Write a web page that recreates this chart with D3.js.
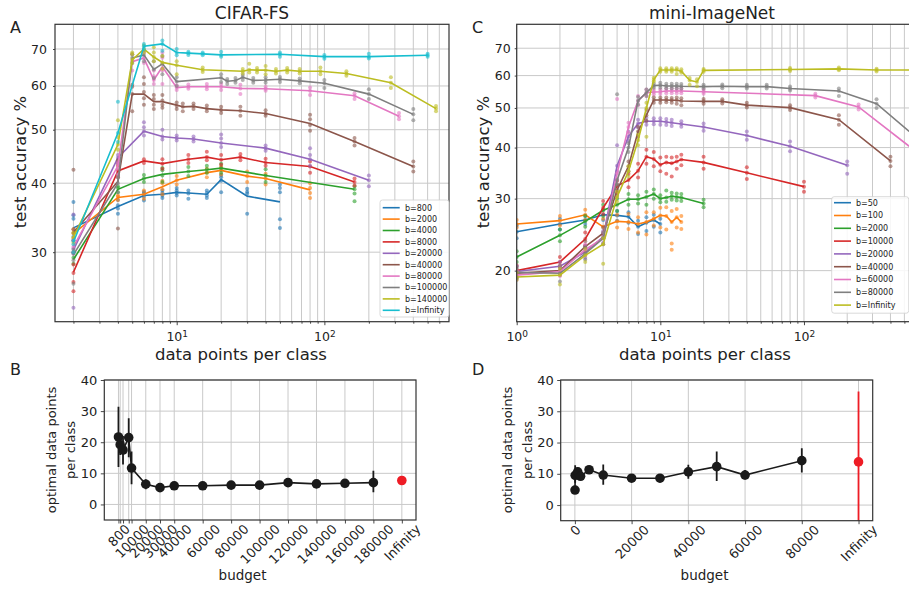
<!DOCTYPE html>
<html><head><meta charset="utf-8">
<script src="https://cdn.jsdelivr.net/npm/d3@7"></script>
<style>
body{margin:0;background:#fff;}
svg{font-family:"DejaVu Sans",sans-serif;}
</style></head><body>
<svg id="chart" width="909" height="590"></svg>
<script>
// ---------------- DATA: CIFAR-FS (panel A) ----------------
const cifarLabels = ["b=800","b=2000","b=4000","b=8000","b=20000","b=40000","b=80000","b=100000","b=140000","b=Infinity"];
const cifarX = [
 [2,4,6,8,10,12,16,20,30,50],
 [2,4,6,8,10,16,20,30,40,80],
 [2,4,6,8,12,16,20,40,160],
 [2,4,6,8,12,16,20,27,40,80,160],
 [2,4,6,8,10,13,20,40,80,200],
 [2,4,5,6,7,8,10,11,13,16,20,27,40,80,160,400],
 [2,4,5,6,7,8,10,12,16,20,27,40,80,160,320],
 [2,4,5,6,7,8,10,20,22,25,28,33,40,50,68,100,200,400],
 [2,4,5,6,7,8,10,15,28,31,35,40,47,56,68,94,141,282,570],
 [2,4,6,8,10,12,15,20,50,100,200,500]
];
const cifarMean = [
 [33.2,36.3,38.0,38.2,38.5,38.4,38.2,40.6,37.9,37.0],
 [32.4,37.7,38.2,39.4,40.5,41.8,42.2,41.2,40.8,38.9],
 [29.1,39.0,40.8,41.5,42.0,42.3,42.6,41.3,39.0],
 [27.6,42.1,43.9,43.4,44.2,44.6,44.1,44.6,43.6,42.9,40.2],
 [30.3,44.5,49.7,48.6,48.3,48.1,47.3,46.3,44.2,40.5],
 [32.6,40.3,58.0,58.0,56.2,56.2,55.4,55.0,55.1,54.6,54.3,54.1,53.5,51.3,47.6,42.9],
 [30.7,43.0,66.4,67.4,61.5,65.0,59.6,59.8,59.8,59.8,59.4,59.3,58.8,57.6,52.9],
 [29.7,40.0,67.4,68.3,64.3,65.8,61.1,62.1,61.2,61.4,62.2,61.4,61.5,61.7,61.3,60.7,58.0,53.3],
 [31.9,47.0,66.9,70.0,67.7,66.2,65.4,64.2,63.8,64.2,64.1,64.1,63.8,64.1,63.8,63.8,63.2,60.8,54.6],
 [31.3,49.3,70.8,71.5,69.0,68.8,68.6,68.3,68.5,67.8,67.8,68.2]
];
const cifarTrials = [
 [[37.0,35.0,34.5,32.0,30.0],[35.2,36.0,36.5,37.3],[37.2,37.8,38.4,38.6],[37.6,38.0,38.4,38.8],[38.0,38.4,38.8,39.2],[37.5,38.3,38.8],[37.6,38.0,38.4,38.8],[38.5,40.4,41.0,41.4],[35.2,38.3,38.6,39.1],[33.2,34.4,38.5,39.2,39.8]],
 [[33.0,32.5,31.8],[37.3,38.0,37.8],[37.5,38.2,38.8],[38.2,39.0,40.0,40.4],[39.8,40.5,41.2],[41.0,41.8,42.5],[41.5,42.3,42.8],[40.2,41.2,42.0],[39.8,40.8,41.6],[37.6,38.4,39.2,40.0]],
 [[30.0,29.3,28.6],[38.5,39.2,39.5],[40.2,40.8,41.4],[40.2,41.3,42.2,42.6],[41.2,42.0,42.8],[41.8,42.4,43.0],[41.8,42.6,43.4],[40.2,41.3,42.4],[37.1,38.3,39.0,39.5]],
 [[28.5,27.5,26.5,25.5],[41.0,42.2,43.0],[43.5,44.2],[42.5,43.4,44.2],[43.5,44.2,45.0],[44.0,44.6,45.6],[43.2,44.1,45.0],[44.0,44.6,45.2],[43.0,43.6,44.3],[41.8,42.9,43.8],[39.6,40.2,40.8]],
 [[35.1,31.5,30.5,29.8,23.8],[43.5,44.5,45.0],[48.8,49.7,50.5,51.6],[48.0,48.6,50.0],[47.8,48.3,48.8],[47.6,48.1,48.6],[46.5,47.3,48.2,49.0],[45.8,46.3,46.8],[43.0,44.2,45.0,46.3],[39.5,40.5,41.3]],
 [[42.3,33.0,32.5,31.5],[33.1,41.5,43.5,44.0],[54.0,58.0,59.8,60.3],[55.5,57.0,58.5,60.5,62.2],[54.5,55.5,56.8,57.8],[54.8,55.5,56.5,57.8],[54.5,55.2,56.0],[54.0,55.0,55.8],[54.5,55.2,55.8],[54.0,54.6,55.3],[53.6,54.3,55.0],[53.0,54.1,55.0],[53.0,53.5,54.2],[49.8,51.0,52.2,53.2],[46.8,47.6,48.3],[42.0,42.9,43.8]],
 [[31.5,30.7,30.0],[41.5,42.5,43.5],[64.0,66.5,68.5],[66.0,67.4,69.0],[60.5,61.5,62.5,64.0],[60.5,64.0,67.5,69.0],[59.0,59.6,60.2],[59.3,59.8,60.4],[59.2,59.8,60.5],[59.0,59.8,60.5],[58.0,59.4,60.3],[58.8,59.3,59.8],[57.8,58.8,59.6],[56.8,57.6,58.2],[52.2,52.9,53.6]],
 [[30.3,29.8,29.0,26.3],[38.5,40.0,41.0],[66.0,67.5,68.5],[66.5,68.3,69.5],[62.0,64.3,66.5],[63.0,65.8,68.0],[60.0,61.1,62.2],[61.0,62.1,63.0],[60.5,61.2,61.8],[60.8,61.4,62.0],[61.5,62.2,62.8],[60.8,61.4,62.0],[60.8,61.5,62.2],[61.0,61.7,62.3],[60.7,61.3,61.9],[59.5,60.7,61.5],[56.8,58.0,59.2],[52.0,53.3,54.5]],
 [[32.5,31.9,31.2],[46.0,47.0,48.5,52.0],[66.0,67.0,68.5,69.0],[69.0,70.0,71.0],[66.5,67.7,69.0,70.5],[64.5,66.2,68.0],[63.0,65.4,66.5],[63.6,64.2,64.8],[63.2,63.8,64.4],[63.5,64.2,65.8],[63.5,64.1,64.7],[63.0,64.1,65.2],[63.2,63.8,64.4],[63.5,64.1,64.7],[63.2,63.8,64.4],[63.0,63.8,64.8],[62.6,63.2,63.8],[59.5,60.8,62.2],[54.0,54.6,55.2]],
 [[31.5,31.0,30.0],[47.5,49.3,56.2],[70.0,70.8,71.5],[69.5,71.5,72.5],[68.2,69.0,70.0],[68.3,68.8,69.2],[68.2,68.6,69.0],[67.8,68.3,69.2],[67.8,68.5,69.0],[67.2,67.8,68.3],[67.3,67.8,68.6],[67.8,68.2,68.6]]
];

// ---------------- DATA: mini-ImageNet (panel C) ----------------
const miniLabels = ["b=50","b=100","b=2000","b=10000","b=20000","b=40000","b=60000","b=80000","b=Infinity"];
const miniX = [
 [1,2,3,4,5,6,7,8,9,10],
 [1,2,3,4,5,6,7,8,9,10,11,12,13,14],
 [1,2,3,4,5,6,7,8,9,10,11,12,13,14,20],
 [1,2,3,4,5,6,7,8,9,10,11,12,13,14,20,40,100],
 [1,2,3,4,5,6,7,8,9,10,11,12,14,20,40,80,200],
 [1,2,3,4,5,6,7,8,9,10,11,12,13,14,20,27,40,80,175,400],
 [1,2,3,4,5,6,7,8,9,10,11,12,13,14,20,120,240,540],
 [1,2,3,4,5,6,7,8,9,10,11,12,13,14,20,27,40,55,80,175,320,540],
 [1,2,3,4,5,6,7,8,9,10,11,12,13,14,16,18,20,80,175,320,560]
];
const miniMean = [
 [24.9,26.0,26.6,27.4,27.3,27.1,25.6,26.2,26.6,26.0],
 [26.0,26.5,27.4,25.6,26.4,26.3,26.0,26.3,26.8,27.3,27.2,26.3,27.0,26.3],
 [21.6,24.4,26.4,28.1,29.0,29.9,29.9,30.3,30.8,30.0,30.2,30.4,30.3,30.2,29.2],
 [20.0,21.0,23.9,28.5,32.2,33.3,35.1,38.0,37.5,36.3,36.8,36.6,37.0,37.4,36.8,34.7,32.1],
 [19.9,20.5,22.2,24.2,36.1,42.6,45.8,46.4,46.4,46.4,46.2,46.0,45.7,44.9,42.8,40.3,36.2],
 [19.7,20.0,22.9,24.7,31.5,36.0,43.8,48.0,52.3,52.3,52.3,52.2,52.2,52.0,51.9,51.9,50.8,50.1,46.8,37.1],
 [19.5,19.9,22.5,24.0,34.6,44.9,52.1,54.5,54.7,54.8,55.0,55.0,55.0,55.0,54.8,53.6,50.3,40.3],
 [19.8,19.7,22.0,24.0,33.3,40.0,52.1,54.5,56.7,56.8,56.6,56.6,56.6,56.5,56.4,56.5,56.4,56.4,55.8,55.0,51.2,43.8],
 [19.3,19.5,21.8,23.2,30.3,35.0,41.7,50.0,58.6,61.9,61.9,61.9,61.9,61.5,58.4,57.9,61.8,62.1,62.3,61.9,61.9]
];
const miniTrials = [
 [[24.0,24.9,25.8],[25.2,26.0,26.8],[26.0,26.6,27.2],[26.6,27.4,28.2],[26.5,27.3,28.0],[26.2,27.1,27.8],[24.6,25.6,26.5],[25.0,26.2,27.0],[25.6,26.6,27.4],[24.8,26.0,26.8]],
 [[25.5,26.0,26.6],[25.8,26.5,27.2],[26.6,27.4,28.2],[24.5,25.6,26.8],[25.5,26.4,27.4],[25.3,26.3,27.5],[24.8,26.0,27.0],[24.5,26.3,27.8],[25.8,26.8,27.8],[25.5,27.3,28.5],[25.2,27.2,28.6],[22.5,23.3,26.3,28.0],[25.5,27.0,28.3],[25.3,26.3,27.2]],
 [[21.0,21.6,22.3],[23.6,24.4,25.2],[25.6,26.4,27.2],[27.2,28.1,29.0],[28.0,29.0,30.0],[29.0,29.9,30.8],[29.2,29.9,30.6],[29.0,30.3,31.2],[30.0,30.8,31.6],[29.4,30.0,30.6],[29.5,30.2,31.4],[29.8,30.4,31.0],[29.7,30.3,30.9],[29.6,30.2,30.8],[28.6,29.2,29.8]],
 [[19.5,20.0,20.6],[20.4,21.0,21.6],[23.0,23.9,24.8],[27.5,28.5,29.6],[31.0,32.2,33.2],[32.0,33.3,34.5],[33.8,35.1,36.5],[36.5,38.0,39.5],[36.0,37.5,39.0],[35.0,36.3,37.8],[34.5,36.8,38.0],[34.0,36.6,37.8],[35.5,37.0,38.0],[36.2,37.4,38.4],[35.5,36.8,38.0],[33.5,34.7,35.8],[31.2,32.1,33.0]],
 [[19.3,19.9,20.5],[20.0,20.5,21.0],[21.5,22.2,23.0],[23.4,24.2,25.0],[35.0,36.1,40.5],[41.5,42.6,43.8],[44.8,45.8,46.8],[45.5,46.4,47.3],[45.6,46.4,47.2],[45.5,46.4,47.2],[45.4,46.2,47.0],[45.2,46.0,46.8],[45.0,45.7,46.4],[44.0,44.9,45.8],[41.8,42.8,43.8],[39.2,40.3,41.4],[34.5,36.2,37.0]],
 [[19.2,19.7,20.2],[19.5,20.0,20.6],[22.2,22.9,23.6],[24.0,24.7,25.5],[30.5,31.5,32.5],[35.0,36.0,37.0],[42.5,43.8,45.0],[46.5,48.0,49.5],[51.5,52.3,53.1],[51.5,52.3,53.0],[51.6,52.3,53.0],[51.5,52.2,52.9],[51.2,52.2,53.0],[50.8,52.0,52.8],[51.2,51.9,52.6],[51.3,51.9,52.5],[50.1,50.8,51.5],[49.4,50.1,50.8],[45.5,46.8,48.0],[36.0,37.1,38.0]],
 [[19.0,19.5,20.0],[19.4,19.9,20.4],[21.8,22.5,23.2],[23.2,24.0,24.8],[33.5,34.6,52.6],[43.5,44.9,46.0],[50.8,52.1,53.5],[53.5,54.5,55.5],[54.0,54.7,55.4],[54.1,54.8,55.5],[54.3,55.0,55.7],[54.3,55.0,55.7],[54.3,55.0,55.7],[54.3,55.0,55.7],[54.2,54.8,55.4],[53.0,53.6,54.2],[49.6,50.3,51.0],[]],
 [[19.2,19.8,20.4],[18.8,19.7,20.4],[21.3,22.0,22.8],[23.2,24.0,24.8],[32.5,33.3,54.0],[39.0,40.0,41.0],[51.0,52.1,53.2],[53.5,54.5,55.5],[56.0,56.7,57.4],[56.0,56.8,57.6],[55.9,56.6,57.3],[55.9,56.6,57.3],[55.9,56.6,57.3],[55.8,56.5,57.2],[55.8,56.4,57.0],[55.9,56.5,57.1],[55.8,56.4,57.0],[55.8,56.4,57.0],[55.2,55.8,56.4],[53.5,55.0,55.8],[50.0,51.2,52.5],[]],
 [[19.0,19.3,19.8],[18.5,19.5,20.2],[21.0,21.8,22.6],[20.8,23.2,24.0],[29.5,30.3,31.2],[34.0,35.0,36.0],[40.5,41.7,43.0],[42.5,50.0,51.5],[58.0,58.6,59.3],[61.3,61.9,62.5],[61.3,61.9,62.5],[61.3,61.9,62.5],[60.5,61.9,62.5],[61.0,61.5,62.2],[57.0,58.4,59.2],[56.5,57.9,58.8],[61.3,61.8,62.3],[61.6,62.1,62.6],[61.8,62.3,62.8],[61.4,61.9,62.4],[]]
];

// ---------------- DATA: optimal data points per class (panels B, D) ----------------
const cifarBudgets = [800,2000,4000,8000,10000,20000,30000,40000,60000,80000,100000,120000,140000,160000,180000];
const cifarOptimal = [21.7,19.2,17.5,21.5,11.7,6.5,5.4,6.0,6.0,6.2,6.2,7.0,6.6,6.8,7.0];
const cifarOptLo   = [12.0,15.9,12.8,15.2,6.5,4.9,4.8,5.4,5.5,5.7,5.6,6.3,6.0,6.2,3.9];
const cifarOptHi   = [31.4,22.3,22.0,27.7,17.0,8.1,6.0,6.6,6.5,6.7,6.8,7.7,7.2,7.4,10.8];
const cifarInf = {pos:200000, value:7.7, lo:7.7, hi:7.7};
const cifarBudgetTicks = [800,2000,4000,8000,10000,20000,30000,40000,60000,80000,100000,120000,140000,160000,180000,200000];
const cifarBudgetTickLabels = ["800","","","","10000","20000","30000","40000","60000","80000","100000","120000","140000","160000","180000","Infinity"];

const miniBudgets = [50,100,1000,2000,5000,10000,20000,30000,40000,50000,60000,80000];
const miniOptimal = [4.8,9.5,10.6,9.2,11.3,9.6,8.6,8.6,10.6,12.3,9.6,14.2];
const miniOptLo   = [4.3,7.1,9.2,8.4,10.3,6.5,7.4,7.5,8.4,7.7,8.2,10.4];
const miniOptHi   = [5.3,12.7,12.0,10.2,12.5,13.0,9.8,9.7,12.9,17.1,11.2,18.2];
const miniInf = {pos:100000, value:13.8, lo:-6, hi:36.3};
const miniBudgetTicks = [0,20000,40000,60000,80000,100000];
const miniBudgetTickLabels = ["0","20000","40000","60000","80000","Infinity"];

const optTicks = [0,10,20,30,40];

// ---------------- RENDER ----------------
const TAB10 = ["#1f77b4","#ff7f0e","#2ca02c","#d62728","#9467bd","#8c564b","#e377c2","#7f7f7f","#bcbd22","#17becf"];
const SPINE = "#333333", GRID = "#c9c9c9", TXT = "#222222", RED = "#ee1c25";
const svg = d3.select("#chart");
svg.append("rect").attr("width",909).attr("height",590).attr("fill","#fff");
const defs = svg.append("defs");

function styleAxis(sel, fs){
  sel.attr("font-family", null).attr("font-size", null);
  sel.select(".domain").remove();
  sel.selectAll(".tick line").attr("stroke", SPINE).attr("stroke-width", 0.9);
  sel.selectAll(".tick text").attr("fill", TXT).style("font-size", fs + "px").style("font-family", "DejaVu Sans");
}

function addText(x, y, txt, size, anchor, rot){
  const t = svg.append("text").attr("fill", TXT).style("font-size", size + "px")
    .attr("text-anchor", anchor || "middle").text(txt);
  if (rot) t.attr("transform", `translate(${x},${y}) rotate(${rot})`);
  else t.attr("x", x).attr("y", y);
  return t;
}

function logPanel(p){
  const x = d3.scaleLog().domain(p.xDom).range([p.left, p.right]);
  const y = d3.scaleLog().domain(p.yDom).range([p.bottom, p.top]);
  const g = svg.append("g");
  defs.append("clipPath").attr("id", p.id).append("rect")
    .attr("x", p.left).attr("y", p.top).attr("width", p.right - p.left).attr("height", p.bottom - p.top);
  const grid = g.append("g").attr("stroke", GRID).attr("stroke-width", 1).attr("clip-path", `url(#${p.id})`);
  grid.selectAll(".gv").data(p.xMajor.concat(p.xMinor)).join("line").attr("class","gv")
    .attr("x1", d => x(d)).attr("x2", d => x(d)).attr("y1", p.top).attr("y2", p.bottom);
  grid.selectAll(".gh").data(p.yTicks).join("line").attr("class","gh")
    .attr("x1", p.left).attr("x2", p.right).attr("y1", d => y(d)).attr("y2", d => y(d));

  const plot = g.append("g").attr("clip-path", `url(#${p.id})`);
  const line = d3.line().x(d => x(d[0])).y(d => y(d[1]));
  p.xs.forEach((xv, i) => {
    const col = TAB10[i];
    const dots = [];
    xv.forEach((xx, j) => p.trials[i][j].forEach(t => dots.push([xx, t])));
    plot.append("g").selectAll("circle").data(dots).join("circle")
      .attr("cx", d => x(d[0])).attr("cy", d => y(d[1])).attr("r", 2)
      .attr("fill", col).attr("fill-opacity", 0.6);
    plot.append("path").datum(xv.map((xx, j) => [xx, p.means[i][j]]))
      .attr("d", line).attr("fill", "none").attr("stroke", col).attr("stroke-width", 1.6);
  });

  g.append("rect").attr("x", p.left).attr("y", p.top).attr("width", p.right - p.left).attr("height", p.bottom - p.top)
    .attr("fill", "none").attr("stroke", SPINE).attr("stroke-width", 1.2);

  const gxMin = g.append("g").attr("transform", `translate(0,${p.bottom})`)
    .call(d3.axisBottom(x).tickValues(p.xMinor).tickSize(2).tickFormat(() => ""));
  styleAxis(gxMin, 12.5);
  const gxMaj = g.append("g").attr("transform", `translate(0,${p.bottom})`)
    .call(d3.axisBottom(x).tickValues(p.xMajor).tickSize(3.5).tickFormat(() => ""));
  styleAxis(gxMaj, 12.5);
  gxMaj.selectAll(".tick text").attr("y", 19.5).attr("dy", null).each(function(d){
    const t = d3.select(this);
    t.text("10");
    t.append("tspan").attr("dy", "-0.45em").style("font-size", "0.72em").text(String(Math.round(Math.log10(d))));
  });
  const gy = g.append("g").attr("transform", `translate(${p.left},0)`)
    .call(d3.axisLeft(y).tickValues(p.yTicks).tickSize(2).tickPadding(p.yPad).tickFormat(d3.format("d")));
  styleAxis(gy, 12.5);

  // legend
  const L = p.leg;
  const lg = g.append("g");
  lg.append("rect").attr("x", L.x).attr("y", L.y).attr("width", L.w).attr("height", L.h).attr("rx", 2.5)
    .attr("fill", "#fff").attr("fill-opacity", 0.85).attr("stroke", "#cfcfcf").attr("stroke-width", 0.8);
  p.labels.forEach((lab, i) => {
    const cy = L.y0 + i * L.dy;
    lg.append("line").attr("x1", L.lx).attr("x2", L.lx + 17).attr("y1", cy).attr("y2", cy)
      .attr("stroke", TAB10[i]).attr("stroke-width", 1.6);
    lg.append("text").attr("x", L.tx).attr("y", cy).attr("dy", "0.35em").attr("fill", TXT)
      .style("font-size", "8px").text(lab);
  });
}

function budgetPanel(p){
  const x = d3.scaleLinear().domain(p.xDom).range([p.left, p.right]);
  const y = d3.scaleLinear().domain([-5, 40]).range([p.bottom, p.top]);
  const g = svg.append("g");
  defs.append("clipPath").attr("id", p.id).append("rect")
    .attr("x", p.left).attr("y", p.top).attr("width", p.right - p.left).attr("height", p.bottom - p.top);
  const grid = g.append("g").attr("stroke", GRID).attr("stroke-width", 1);
  grid.selectAll(".gv").data(p.ticks).join("line").attr("class","gv")
    .attr("x1", d => x(d)).attr("x2", d => x(d)).attr("y1", p.top).attr("y2", p.bottom);
  grid.selectAll(".gh").data(optTicks).join("line").attr("class","gh")
    .attr("x1", p.left).attr("x2", p.right).attr("y1", d => y(d)).attr("y2", d => y(d));

  const plot = g.append("g").attr("clip-path", `url(#${p.id})`);
  plot.append("path").datum(p.budgets.map((b, i) => [b, p.opt[i]]))
    .attr("d", d3.line().x(d => x(d[0])).y(d => y(d[1])))
    .attr("fill", "none").attr("stroke", "#1a1a1a").attr("stroke-width", 1.6);
  plot.selectAll(".eb").data(p.budgets).join("line").attr("class","eb")
    .attr("x1", d => x(d)).attr("x2", d => x(d))
    .attr("y1", (d, i) => y(p.lo[i])).attr("y2", (d, i) => y(p.hi[i]))
    .attr("stroke", "#1a1a1a").attr("stroke-width", 1.8);
  plot.selectAll(".pt").data(p.budgets).join("circle").attr("class","pt")
    .attr("cx", d => x(d)).attr("cy", (d, i) => y(p.opt[i])).attr("r", 4.8).attr("fill", "#1a1a1a");
  plot.append("line").attr("x1", x(p.inf.pos)).attr("x2", x(p.inf.pos))
    .attr("y1", y(p.inf.lo)).attr("y2", y(p.inf.hi)).attr("stroke", RED).attr("stroke-width", 1.8);
  plot.append("circle").attr("cx", x(p.inf.pos)).attr("cy", y(p.inf.value)).attr("r", 4.8).attr("fill", RED);

  g.append("rect").attr("x", p.left).attr("y", p.top).attr("width", p.right - p.left).attr("height", p.bottom - p.top)
    .attr("fill", "none").attr("stroke", SPINE).attr("stroke-width", 1.2);

  const fs = 13;
  const gx = g.append("g").attr("transform", `translate(0,${p.bottom})`)
    .call(d3.axisBottom(x).tickValues(p.ticks).tickSize(3.5).tickFormat((d, i) => p.tickLabels[i]));
  styleAxis(gx, fs);
  gx.selectAll(".tick text").attr("y", 0).attr("dy", "0.35em").attr("text-anchor", "middle")
    .attr("transform", function(){
      const len = this.getComputedTextLength();
      const off = 2.5 + (len + 0.9 * fs) * 0.7071 / 2;
      return `translate(0,${off}) rotate(-45)`;
    });
  const gy = g.append("g").attr("transform", `translate(${p.left},0)`)
    .call(d3.axisLeft(y).tickValues(optTicks).tickSize(3.5).tickPadding(3.5));
  styleAxis(gy, 13);
}

// Panel A
logPanel({
  id: "clipA", left: 55, right: 449, top: 24.3, bottom: 321.7,
  xDom: [1.5, 697.8], yDom: [22.45, 77.6],
  xMajor: [10, 100], xMinor: [2,3,4,5,6,7,8,9,20,30,40,50,60,70,80,90,200,300,400,500,600],
  yTicks: [30,40,50,60,70], yPad: 6,
  xs: cifarX, means: cifarMean, trials: cifarTrials, labels: cifarLabels,
  leg: {x: 380, y: 200, w: 69, h: 117, y0: 207.7, dy: 11.4, lx: 382.7, tx: 405}
});
// Panel C
logPanel({
  id: "clipC", left: 516.7, right: 912, top: 24.3, bottom: 321.7,
  xDom: [1, 565], yDom: [15.0, 80.1],
  xMajor: [1, 10, 100], xMinor: [2,3,4,5,6,7,8,9,20,30,40,50,60,70,80,90,200,300,400,500],
  yTicks: [20,30,40,50,60,70], yPad: 4,
  xs: miniX, means: miniMean, trials: miniTrials, labels: miniLabels,
  leg: {x: 831.7, y: 196.7, w: 77, h: 116.5, y0: 202.7, dy: 12.8, lx: 834, tx: 856}
});
// Panel B
budgetPanel({
  id: "clipB", left: 104.3, right: 416, top: 380, bottom: 520,
  xDom: [-9160, 209960], budgets: cifarBudgets, opt: cifarOptimal, lo: cifarOptLo, hi: cifarOptHi,
  inf: cifarInf, ticks: cifarBudgetTicks, tickLabels: cifarBudgetTickLabels
});
// Panel D
budgetPanel({
  id: "clipD", left: 560.7, right: 872.7, top: 380, bottom: 520.7,
  xDom: [-5000, 105000], budgets: miniBudgets, opt: miniOptimal, lo: miniOptLo, hi: miniOptHi,
  inf: miniInf, ticks: miniBudgetTicks, tickLabels: miniBudgetTickLabels
});

// Titles and labels
addText(252, 19, "CIFAR-FS", 17);
addText(712, 19, "mini-ImageNet", 17);
addText(10, 33, "A", 16, "start");
addText(10, 375, "B", 16, "start");
addText(472, 33, "C", 16, "start");
addText(472, 375, "D", 16, "start");
addText(26, 162, "test accuracy %", 16.5, "middle", -90);
addText(488.5, 162, "test accuracy %", 16.5, "middle", -90);
addText(241, 360, "data points per class", 16.5);
addText(705, 360, "data points per class", 16.5);
addText(56, 450, "optimal data points", 13, "middle", -90);
addText(75, 450, "per class", 13, "middle", -90);
addText(511.5, 450, "optimal data points", 13, "middle", -90);
addText(531.5, 450, "per class", 13, "middle", -90);
addText(242.5, 580, "budget", 13.5);
addText(704.5, 580, "budget", 13.5);
</script>
</body></html>
